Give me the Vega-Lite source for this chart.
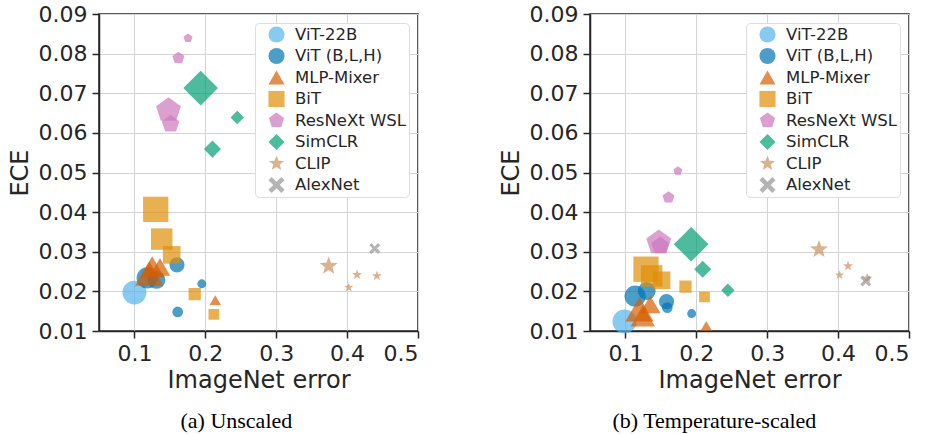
{
  "$schema": "https://vega.github.io/schema/vega-lite/v6.json",
  "padding": {"left": 7, "top": 2, "right": 0, "bottom": 0},
  "datasets": {
    "unscaled": [
      {"family": "ViT-22B", "error": 0.100, "ece": 0.0197, "model_size": 57},
      {"family": "ViT (B,L,H)", "error": 0.118, "ece": 0.0234, "model_size": 45},
      {"family": "ViT (B,L,H)", "error": 0.131, "ece": 0.0229, "model_size": 32},
      {"family": "ViT (B,L,H)", "error": 0.160, "ece": 0.0267, "model_size": 23},
      {"family": "ViT (B,L,H)", "error": 0.161, "ece": 0.0148, "model_size": 11.5},
      {"family": "ViT (B,L,H)", "error": 0.195, "ece": 0.0219, "model_size": 8},
      {"family": "MLP-Mixer", "error": 0.121, "ece": 0.0245, "model_size": 80},
      {"family": "MLP-Mixer", "error": 0.125, "ece": 0.0262, "model_size": 60},
      {"family": "MLP-Mixer", "error": 0.136, "ece": 0.0262, "model_size": 42},
      {"family": "MLP-Mixer", "error": 0.214, "ece": 0.0178, "model_size": 13},
      {"family": "BiT", "error": 0.130, "ece": 0.0407, "model_size": 64},
      {"family": "BiT", "error": 0.1385, "ece": 0.0332, "model_size": 46},
      {"family": "BiT", "error": 0.1526, "ece": 0.0292, "model_size": 31},
      {"family": "BiT", "error": 0.185, "ece": 0.0193, "model_size": 15},
      {"family": "BiT", "error": 0.212, "ece": 0.0142, "model_size": 11.5},
      {"family": "ResNeXt WSL", "error": 0.148, "ece": 0.0657, "model_size": 68},
      {"family": "ResNeXt WSL", "error": 0.151, "ece": 0.0622, "model_size": 34},
      {"family": "ResNeXt WSL", "error": 0.162, "ece": 0.0789, "model_size": 16},
      {"family": "ResNeXt WSL", "error": 0.1756, "ece": 0.0839, "model_size": 9},
      {"family": "SimCLR", "error": 0.1934, "ece": 0.0713, "model_size": 120},
      {"family": "SimCLR", "error": 0.210, "ece": 0.0559, "model_size": 29},
      {"family": "SimCLR", "error": 0.245, "ece": 0.0639, "model_size": 18},
      {"family": "CLIP", "error": 0.374, "ece": 0.0264, "model_size": 36},
      {"family": "CLIP", "error": 0.4023, "ece": 0.0210, "model_size": 9},
      {"family": "CLIP", "error": 0.414, "ece": 0.0242, "model_size": 11},
      {"family": "CLIP", "error": 0.442, "ece": 0.0239, "model_size": 11},
      {"family": "AlexNet", "error": 0.439, "ece": 0.0308, "model_size": 12}
    ],
    "scaled": [
      {"family": "ViT-22B", "error": 0.0986, "ece": 0.0124, "model_size": 57},
      {"family": "ViT (B,L,H)", "error": 0.1136, "ece": 0.0188, "model_size": 45},
      {"family": "ViT (B,L,H)", "error": 0.130, "ece": 0.0201, "model_size": 32},
      {"family": "ViT (B,L,H)", "error": 0.158, "ece": 0.0174, "model_size": 23},
      {"family": "ViT (B,L,H)", "error": 0.159, "ece": 0.0159, "model_size": 11.5},
      {"family": "ViT (B,L,H)", "error": 0.1934, "ece": 0.0144, "model_size": 8},
      {"family": "MLP-Mixer", "error": 0.1198, "ece": 0.0155, "model_size": 80},
      {"family": "MLP-Mixer", "error": 0.1245, "ece": 0.0138, "model_size": 60},
      {"family": "MLP-Mixer", "error": 0.135, "ece": 0.0167, "model_size": 42},
      {"family": "MLP-Mixer", "error": 0.214, "ece": 0.0113, "model_size": 13},
      {"family": "BiT", "error": 0.129, "ece": 0.0256, "model_size": 64},
      {"family": "BiT", "error": 0.137, "ece": 0.0239, "model_size": 46},
      {"family": "BiT", "error": 0.151, "ece": 0.0228, "model_size": 31},
      {"family": "BiT", "error": 0.1847, "ece": 0.0212, "model_size": 15},
      {"family": "BiT", "error": 0.2115, "ece": 0.0186, "model_size": 11.5},
      {"family": "ResNeXt WSL", "error": 0.147, "ece": 0.0323, "model_size": 68},
      {"family": "ResNeXt WSL", "error": 0.149, "ece": 0.0315, "model_size": 34},
      {"family": "ResNeXt WSL", "error": 0.1607, "ece": 0.0437, "model_size": 16},
      {"family": "ResNeXt WSL", "error": 0.174, "ece": 0.0504, "model_size": 9},
      {"family": "SimCLR", "error": 0.1927, "ece": 0.0319, "model_size": 120},
      {"family": "SimCLR", "error": 0.209, "ece": 0.0256, "model_size": 29},
      {"family": "SimCLR", "error": 0.2445, "ece": 0.0203, "model_size": 18},
      {"family": "CLIP", "error": 0.373, "ece": 0.0306, "model_size": 36},
      {"family": "CLIP", "error": 0.402, "ece": 0.0241, "model_size": 9},
      {"family": "CLIP", "error": 0.414, "ece": 0.0264, "model_size": 11},
      {"family": "CLIP", "error": 0.441, "ece": 0.0233, "model_size": 11},
      {"family": "AlexNet", "error": 0.439, "ece": 0.0226, "model_size": 12}
    ]
  },
  "config": {
    "font": "DejaVu Sans",
    "view": {"stroke": "#262626", "strokeWidth": 1.5},
    "axis": {
      "labelFont": "DejaVu Sans", "labelFontSize": 22, "labelColor": "#262626",
      "titleFont": "DejaVu Sans", "titleFontSize": 24, "titleFontWeight": "normal", "titleColor": "#262626",
      "tickColor": "#262626", "tickSize": 7, "tickWidth": 1.5,
      "domainColor": "#262626", "domainWidth": 1.5,
      "gridColor": "#d4d4d4", "gridWidth": 1
    },
    "legend": {
      "labelFont": "DejaVu Sans", "labelFontSize": 16.5, "labelColor": "#262626",
      "fillColor": "white", "strokeColor": "#dddddd", "cornerRadius": 4,
      "padding": 3, "symbolOffset": 10, "symbolSize": 260, "symbolOpacity": 0.7, "symbolStrokeWidth": 0,
      "rowPadding": 4.5, "labelOffset": 10
    },
    "title": {"font": "Liberation Serif", "fontSize": 22, "fontWeight": "normal", "color": "black"}
  },
  "resolve": {"legend": {"color": "independent", "shape": "independent", "size": "independent"}},
  "spacing": 78,
  "hconcat": [
    {
      "data": {"name": "unscaled"},
      "width": 319, "height": 317,
      "title": {"text": "(a)  Unscaled", "orient": "bottom", "anchor": "middle", "frame": "bounds", "offset": 19, "dx": 23},
      "mark": {"type": "point", "filled": true, "opacity": 0.7, "strokeWidth": 0},
      "encoding": {
        "x": {"field": "error", "type": "quantitative", "title": "ImageNet error",
              "scale": {"domain": [0.05, 0.5], "nice": false},
              "axis": {"values": [0.1, 0.2, 0.3, 0.4, 0.5], "format": ".1f", "labelPadding": 5, "titlePadding": 4}},
        "y": {"field": "ece", "type": "quantitative", "title": "ECE",
              "scale": {"domain": [0.01, 0.09], "nice": false},
              "axis": {"values": [0.01, 0.02, 0.03, 0.04, 0.05, 0.06, 0.07, 0.08, 0.09], "format": ".2f", "labelPadding": 5, "titlePadding": 6}},
        "color": {"field": "family", "type": "nominal", "title": null,
                  "scale": {"domain": ["ViT-22B", "ViT (B,L,H)", "MLP-Mixer", "BiT", "ResNeXt WSL", "SimCLR", "CLIP", "AlexNet"],
                            "range": ["#56B4E9", "#0173B2", "#D55E00", "#DE8F05", "#CC78BC", "#029E73", "#CA9161", "#949494"]},
                  "legend": {"orient": "top-right", "offset": 9}},
        "shape": {"field": "family", "type": "nominal", "title": null,
                  "scale": {"domain": ["ViT-22B", "ViT (B,L,H)", "MLP-Mixer", "BiT", "ResNeXt WSL", "SimCLR", "CLIP", "AlexNet"],
                            "range": ["circle", "circle", "triangle-up", "square",
                                      "M0,-1L0.951,-0.309L0.588,0.809L-0.588,0.809L-0.951,-0.309Z",
                                      "diamond",
                                      "M0,-1L0.247,-0.34L0.951,-0.309L0.399,0.13L0.588,0.809L0,0.42L-0.588,0.809L-0.399,0.13L-0.951,-0.309L-0.247,-0.34Z",
                                      "M-1,-0.6L-0.6,-1L0,-0.4L0.6,-1L1,-0.6L0.4,0L1,0.6L0.6,1L0,0.4L-0.6,1L-1,0.6L-0.4,0Z"]},
                  "legend": {"orient": "top-right", "offset": 9}},
        "size": {"field": "model_size", "type": "quantitative", "scale": {"domain": [0, 100], "range": [0, 1000]}, "legend": null}
      }
    },
    {
      "data": {"name": "scaled"},
      "width": 319, "height": 317,
      "title": {"text": "(b)  Temperature-scaled", "orient": "bottom", "anchor": "middle", "frame": "bounds", "offset": 19, "dx": 10},
      "mark": {"type": "point", "filled": true, "opacity": 0.7, "strokeWidth": 0},
      "encoding": {
        "x": {"field": "error", "type": "quantitative", "title": "ImageNet error",
              "scale": {"domain": [0.05, 0.5], "nice": false},
              "axis": {"values": [0.1, 0.2, 0.3, 0.4, 0.5], "format": ".1f", "labelPadding": 5, "titlePadding": 4}},
        "y": {"field": "ece", "type": "quantitative", "title": "ECE",
              "scale": {"domain": [0.01, 0.09], "nice": false},
              "axis": {"values": [0.01, 0.02, 0.03, 0.04, 0.05, 0.06, 0.07, 0.08, 0.09], "format": ".2f", "labelPadding": 5, "titlePadding": 6}},
        "color": {"field": "family", "type": "nominal", "title": null,
                  "scale": {"domain": ["ViT-22B", "ViT (B,L,H)", "MLP-Mixer", "BiT", "ResNeXt WSL", "SimCLR", "CLIP", "AlexNet"],
                            "range": ["#56B4E9", "#0173B2", "#D55E00", "#DE8F05", "#CC78BC", "#029E73", "#CA9161", "#949494"]},
                  "legend": {"orient": "top-right", "offset": 9}},
        "shape": {"field": "family", "type": "nominal", "title": null,
                  "scale": {"domain": ["ViT-22B", "ViT (B,L,H)", "MLP-Mixer", "BiT", "ResNeXt WSL", "SimCLR", "CLIP", "AlexNet"],
                            "range": ["circle", "circle", "triangle-up", "square",
                                      "M0,-1L0.951,-0.309L0.588,0.809L-0.588,0.809L-0.951,-0.309Z",
                                      "diamond",
                                      "M0,-1L0.247,-0.34L0.951,-0.309L0.399,0.13L0.588,0.809L0,0.42L-0.588,0.809L-0.399,0.13L-0.951,-0.309L-0.247,-0.34Z",
                                      "M-1,-0.6L-0.6,-1L0,-0.4L0.6,-1L1,-0.6L0.4,0L1,0.6L0.6,1L0,0.4L-0.6,1L-1,0.6L-0.4,0Z"]},
                  "legend": {"orient": "top-right", "offset": 9}},
        "size": {"field": "model_size", "type": "quantitative", "scale": {"domain": [0, 100], "range": [0, 1000]}, "legend": null}
      }
    }
  ]
}
